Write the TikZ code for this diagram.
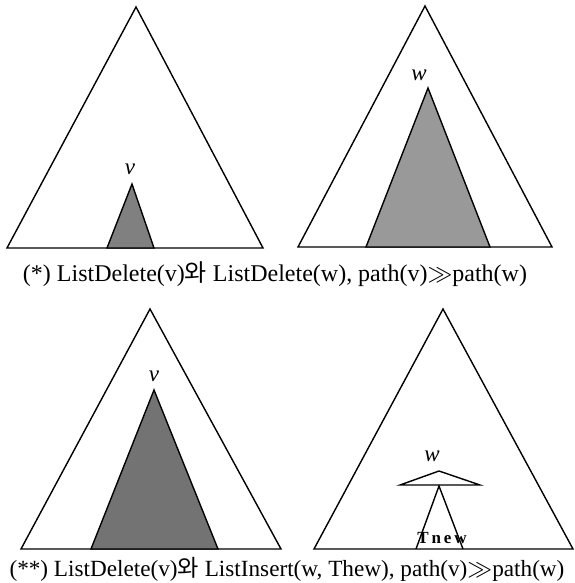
\documentclass[tikz,border=0pt]{standalone}
\usepackage{fontspec}
\setmainfont{Liberation Serif}
\newfontfamily\krfont{Noto Sans CJK KR}
\begin{document}
\begin{tikzpicture}[x=1pt,y=-1pt,
  tree/.style={line width=1.4pt,line join=miter},
  subtree/.style={tree,fill=black!50},
  lbl/.style={font=\fontsize{23}{26}\selectfont\itshape},
  captext/.style={font=\fontsize{24}{28}\selectfont}]
  \useasboundingbox (0,0) rectangle (574,583);

  % (*) left: v deep in the tree
  \draw[tree] (7,248) -- (136,7) -- (263,248) -- cycle;
  \draw[subtree] (107,248) -- (132,184) -- (154,248) -- cycle;
  \node[lbl] (v1) at (130,169) {v};

  % (*) right: w near the root
  \draw[tree] (298,247) -- (425,6) -- (552,247) -- cycle;
  \draw[subtree,fill=black!40] (366,247) -- (428,88) -- (490,247) -- cycle;
  \node[lbl] (w1) at (419,75) {w};

  \node[captext] (cap1) at (275,274) {(*) ListDelete(v){\krfont 와} ListDelete(w), path(v)$\gg$path(w)};

  % (**) left: v near the root
  \draw[tree] (21,549) -- (150,309) -- (281,549) -- cycle;
  \draw[subtree,fill=black!55] (91,549) -- (154,390) -- (218,549) -- cycle;
  \node[lbl] (v2) at (154,376) {v};

  % (**) right: w with new subtree
  \draw[tree] (314,549) -- (443,309) -- (573,549) -- cycle;
  \draw[tree] (400,485) -- (439,471) -- (480,485) -- cycle;
  \coordinate (wroot) at (439,486);
  \draw[tree] (416,549) -- (wroot) -- (463,549);
  \node[lbl] (w2) at (432,456) {w};
  \node[font=\fontsize{17}{19}\selectfont\bfseries] (tnew) at (442,538) {T\,n\,e\,w};

  \node[captext,font=\fontsize{23.2}{26}\selectfont] (cap2) at (287,569) {(**) ListDelete(v){\krfont 와} ListInsert(w, Thew), path(v)$\gg$path(w)};
\end{tikzpicture}
\end{document}
